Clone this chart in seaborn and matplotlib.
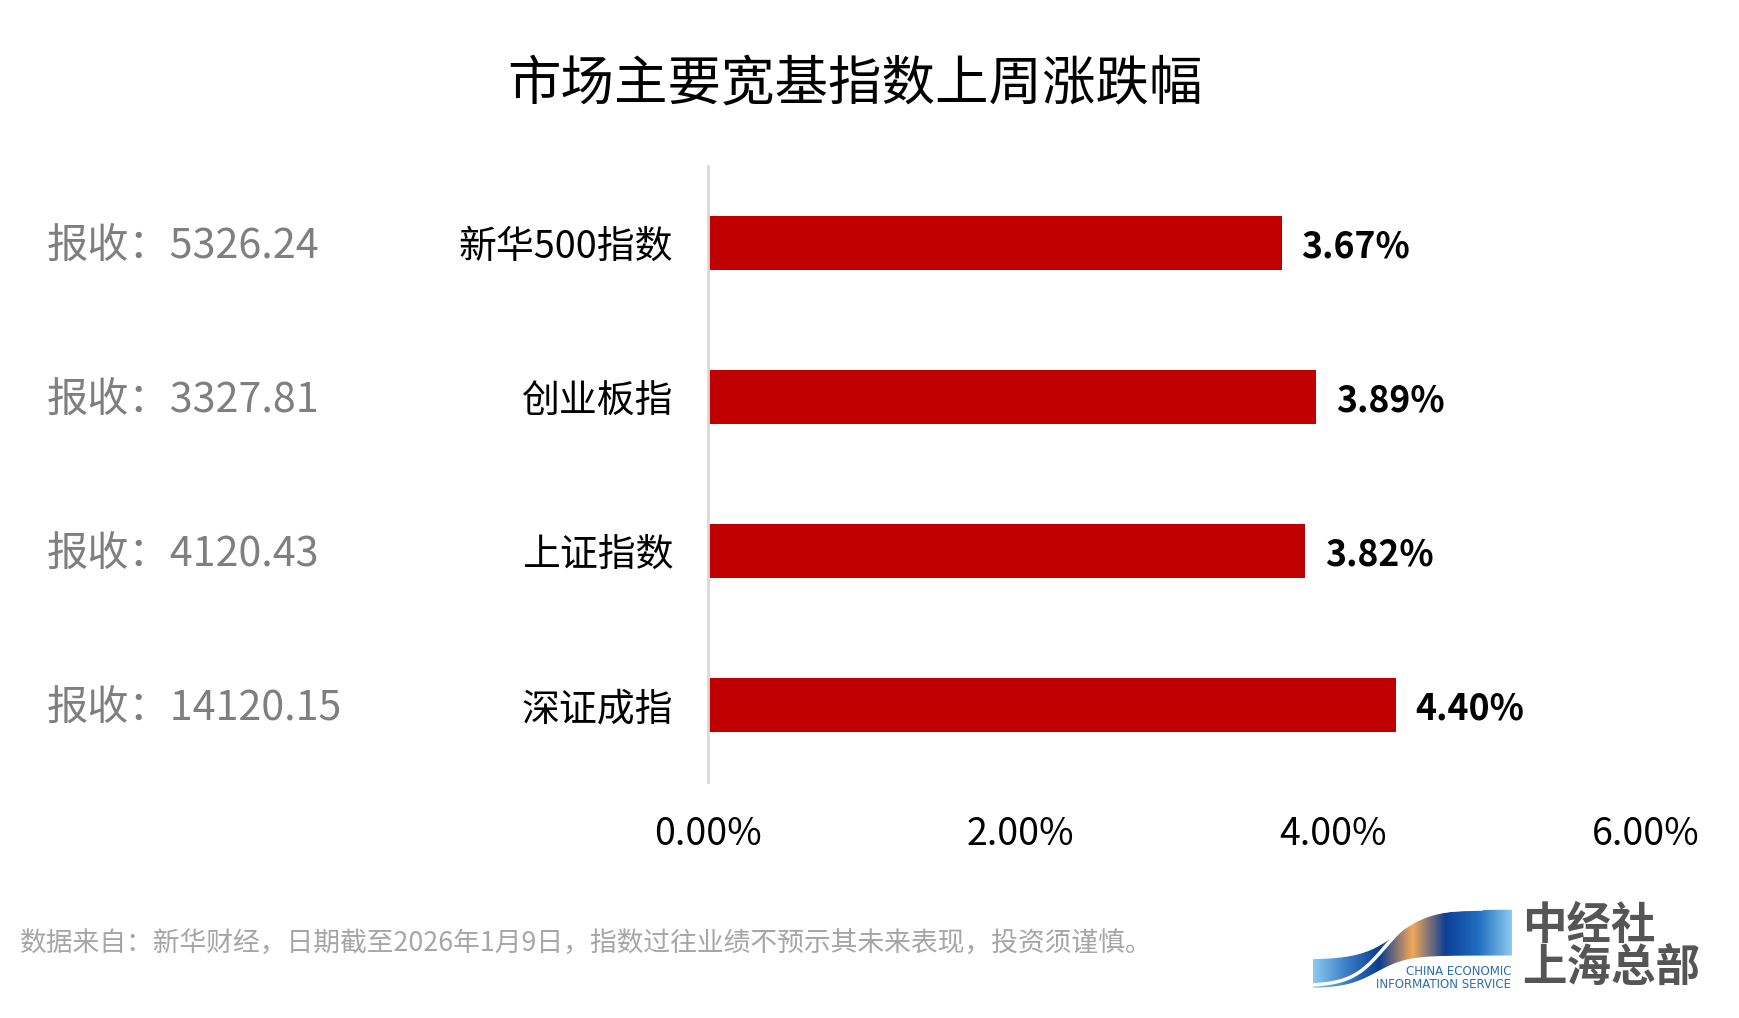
import numpy as np
import pandas as pd
import matplotlib
matplotlib.use("Agg")
import matplotlib.pyplot as plt
import matplotlib.transforms as mtransforms
from matplotlib.path import Path
from matplotlib.patches import PathPatch
from matplotlib.colors import LinearSegmentedColormap
import seaborn as sns

# ---------------- data ----------------
categories = ["新华500指数", "创业板指", "上证指数", "深证成指"]
changes = [3.67, 3.89, 3.82, 4.40]
closes = ["5326.24", "3327.81", "4120.43", "14120.15"]
x_ticks = [0, 2, 4, 6]
title = "市场主要宽基指数上周涨跌幅"
footnote = "数据来自：新华财经，日期截至2026年1月9日，指数过往业绩不预示其未来表现，投资须谨慎。"

df = pd.DataFrame({"name": categories, "chg": changes})

sns.set_theme(style="white")
plt.rcParams["font.family"] = ["Noto Sans CJK SC", "DejaVu Sans"]

W, H = 1739, 1018
fig = plt.figure(figsize=(W / 100, H / 100), dpi=100)
fig.patch.set_facecolor("white")

def fx(px):
    return px / W

def fy(py):
    return 1 - py / H

ax = fig.add_axes([fx(708), fy(782), fx(1646) - fx(708), fy(166) - fy(782)])
sns.barplot(data=df, x="chg", y="name", order=categories, color="#C00000",
            saturation=1, width=0.35, orient="h", ax=ax, edgecolor="none")

ax.set_xlim(0, 6)
ax.set_ylim(3.5, -0.5)
ax.set_xticks(x_ticks)
ax.set_xticklabels([f"{v:.2f}%" for v in x_ticks], fontsize=27, color="black")
ax.tick_params(axis="x", length=0, pad=24)
ax.set_yticks(range(len(categories)))
ax.set_yticklabels(categories, fontsize=27.3, color="black")
ax.tick_params(axis="y", length=0, pad=25)
for lab in ax.get_yticklabels():
    lab.set_transform(lab.get_transform() + mtransforms.ScaledTranslation(0, 0, fig.dpi_scale_trans))
ax.set_xlabel("")
ax.set_ylabel("")
for s in ["top", "right", "bottom"]:
    ax.spines[s].set_visible(False)
ax.spines["left"].set_color("#d9d9d9")
ax.spines["left"].set_linewidth(2)
ax.grid(False)

# value labels
for i, v in enumerate(changes):
    ax.annotate(f"{v:.2f}%", xy=(v, i), xytext=(14, -3), textcoords="offset points",
                va="center", ha="left", fontsize=25.6, fontweight="bold", color="black")

# left "报收" labels
trans = mtransforms.blended_transform_factory(fig.transFigure, ax.transData)
for i, c in enumerate(closes):
    ax.annotate(f"报收：{c}", xy=(fx(47), i), xycoords=trans, xytext=(0, -3),
                textcoords="offset points", ha="left", va="center",
                fontsize=29.7, color="#7f7f7f")

# title
fig.text(fx(855), fy(84), title, ha="center", va="center", fontsize=38.5, color="black")

# footnote
fig.text(fx(20), fy(944), footnote, ha="left", va="center", fontsize=19.3, color="#a6a6a6")

# ---------------- logo ----------------
lax = fig.add_axes([fx(1313), fy(990), fx(1512) - fx(1313), fy(908) - fy(990)])
lax.set_xlim(0, 1)
lax.set_ylim(0, 1)
lax.axis("off")

def sig(x, a, b, c=0.38, k=12):
    return a + (b - a) / (1 + np.exp(-k * (x - c)))

xs = np.linspace(0, 1, 200)
top = sig(xs, 0.37, 0.98, c=0.42, k=11)
bot = sig(xs, 0.02, 0.42, c=0.32, k=13)
verts = list(zip(xs, top)) + list(zip(xs[::-1], bot[::-1]))
path = Path(verts + [verts[0]], [Path.MOVETO] + [Path.LINETO] * (len(verts) - 1) + [Path.CLOSEPOLY])
patch = PathPatch(path, facecolor="none", edgecolor="none")
lax.add_patch(patch)
cmap = LinearSegmentedColormap.from_list(
    "logo", ["#8cc8f0", "#3a7fc8", "#0b3d8f", "#f2a85a", "#0d3f95", "#1f6fc0", "#8ccaf0"])
grad = np.linspace(0, 1, 256).reshape(1, -1)
im = lax.imshow(grad, extent=[0, 1, 0, 1], aspect="auto", cmap=cmap, origin="lower")
im.set_clip_path(patch)
sw = sig(xs, 0.05, 0.99, c=0.36, k=12)
lax.plot(xs[:170], sw[:170], color="white", lw=2.5)
lax.text(0.995, 0.22, "CHINA ECONOMIC", ha="right", va="center", fontsize=8.5,
         color="#2b6cb3", family=["DejaVu Sans"])
lax.text(0.995, 0.07, "INFORMATION SERVICE", ha="right", va="center", fontsize=8.5,
         color="#2b6cb3", family=["DejaVu Sans"])

fig.text(fx(1522), fy(926), "中经社", ha="left", va="center", fontsize=32,
         fontweight="bold", color="#555555")
fig.text(fx(1522), fy(968), "上海总部", ha="left", va="center", fontsize=32,
         fontweight="bold", color="#555555")

fig.savefig("out.png", dpi=100, facecolor="white")
